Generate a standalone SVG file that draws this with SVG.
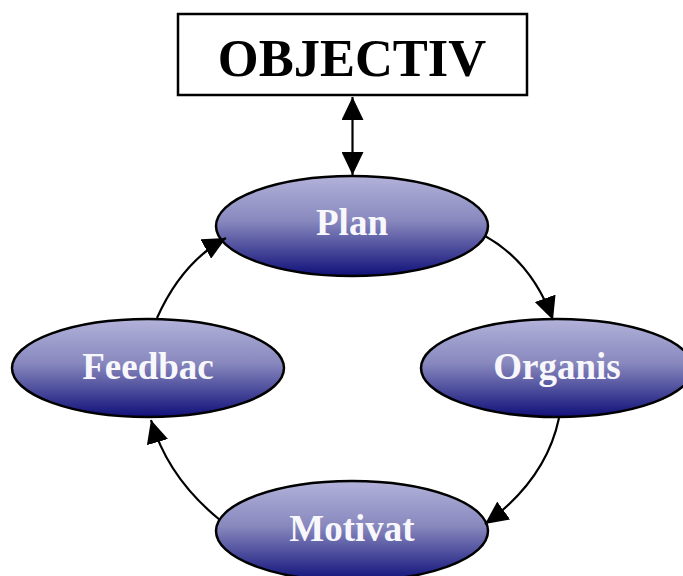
<svg xmlns="http://www.w3.org/2000/svg" width="683" height="576" viewBox="0 0 683 576">
<defs>
<linearGradient id="g" x1="0" y1="0" x2="0" y2="1">
<stop offset="0" stop-color="#b2b2da"/>
<stop offset="0.45" stop-color="#8888be"/>
<stop offset="1" stop-color="#10107a"/>
</linearGradient>
<marker id="ah" markerUnits="userSpaceOnUse" markerWidth="24" markerHeight="22" refX="23" refY="11" orient="auto-start-reverse" viewBox="0 0 24 22">
<path d="M0,0 L23,11 L0,22 Z" fill="#000"/>
</marker>
<style>
.node{fill:url(#g);stroke:#000;stroke-width:2.5}
.lbl{font-family:"Liberation Serif","Times New Roman",serif;font-weight:bold;font-size:37px;fill:#f8f8fc;text-anchor:middle}
.conn{fill:none;stroke:#000;stroke-width:2.2}
</style>
</defs>
<g id="objective">
<rect x="178" y="14" width="349" height="81" fill="#fff" stroke="#000" stroke-width="2.5"/>
<text x="352" y="76" font-family="'Liberation Serif','Times New Roman',serif" font-weight="bold" font-size="52.5" text-anchor="middle" fill="#000">OBJECTIV</text>
</g>
<g id="plan">
<ellipse class="node" cx="352" cy="226" rx="136" ry="50"/>
<text class="lbl" x="352" y="235">Plan</text>
</g>
<g id="organis">
<ellipse class="node" cx="557" cy="368" rx="136" ry="49"/>
<text class="lbl" x="557" y="379">Organis</text>
</g>
<g id="feedbac">
<ellipse class="node" cx="148" cy="368" rx="136" ry="49"/>
<text class="lbl" x="148" y="379">Feedbac</text>
</g>
<g id="motivat">
<ellipse class="node" cx="352" cy="531" rx="136" ry="50"/>
<text class="lbl" x="352" y="541">Motivat</text>
</g>
<g id="connectors">
<path class="conn" d="M352.5,97 L352.5,175" marker-start="url(#ah)" marker-end="url(#ah)"/>
<path class="conn" d="M485,236 Q532,262 553,320" marker-end="url(#ah)"/>
<path class="conn" d="M559,418 Q546,480 485,524" marker-end="url(#ah)"/>
<path class="conn" d="M220,520 Q168,478 151,420" marker-end="url(#ah)"/>
<path class="conn" d="M157,318 Q182,262 226,238" marker-end="url(#ah)"/>
</g>
</svg>
